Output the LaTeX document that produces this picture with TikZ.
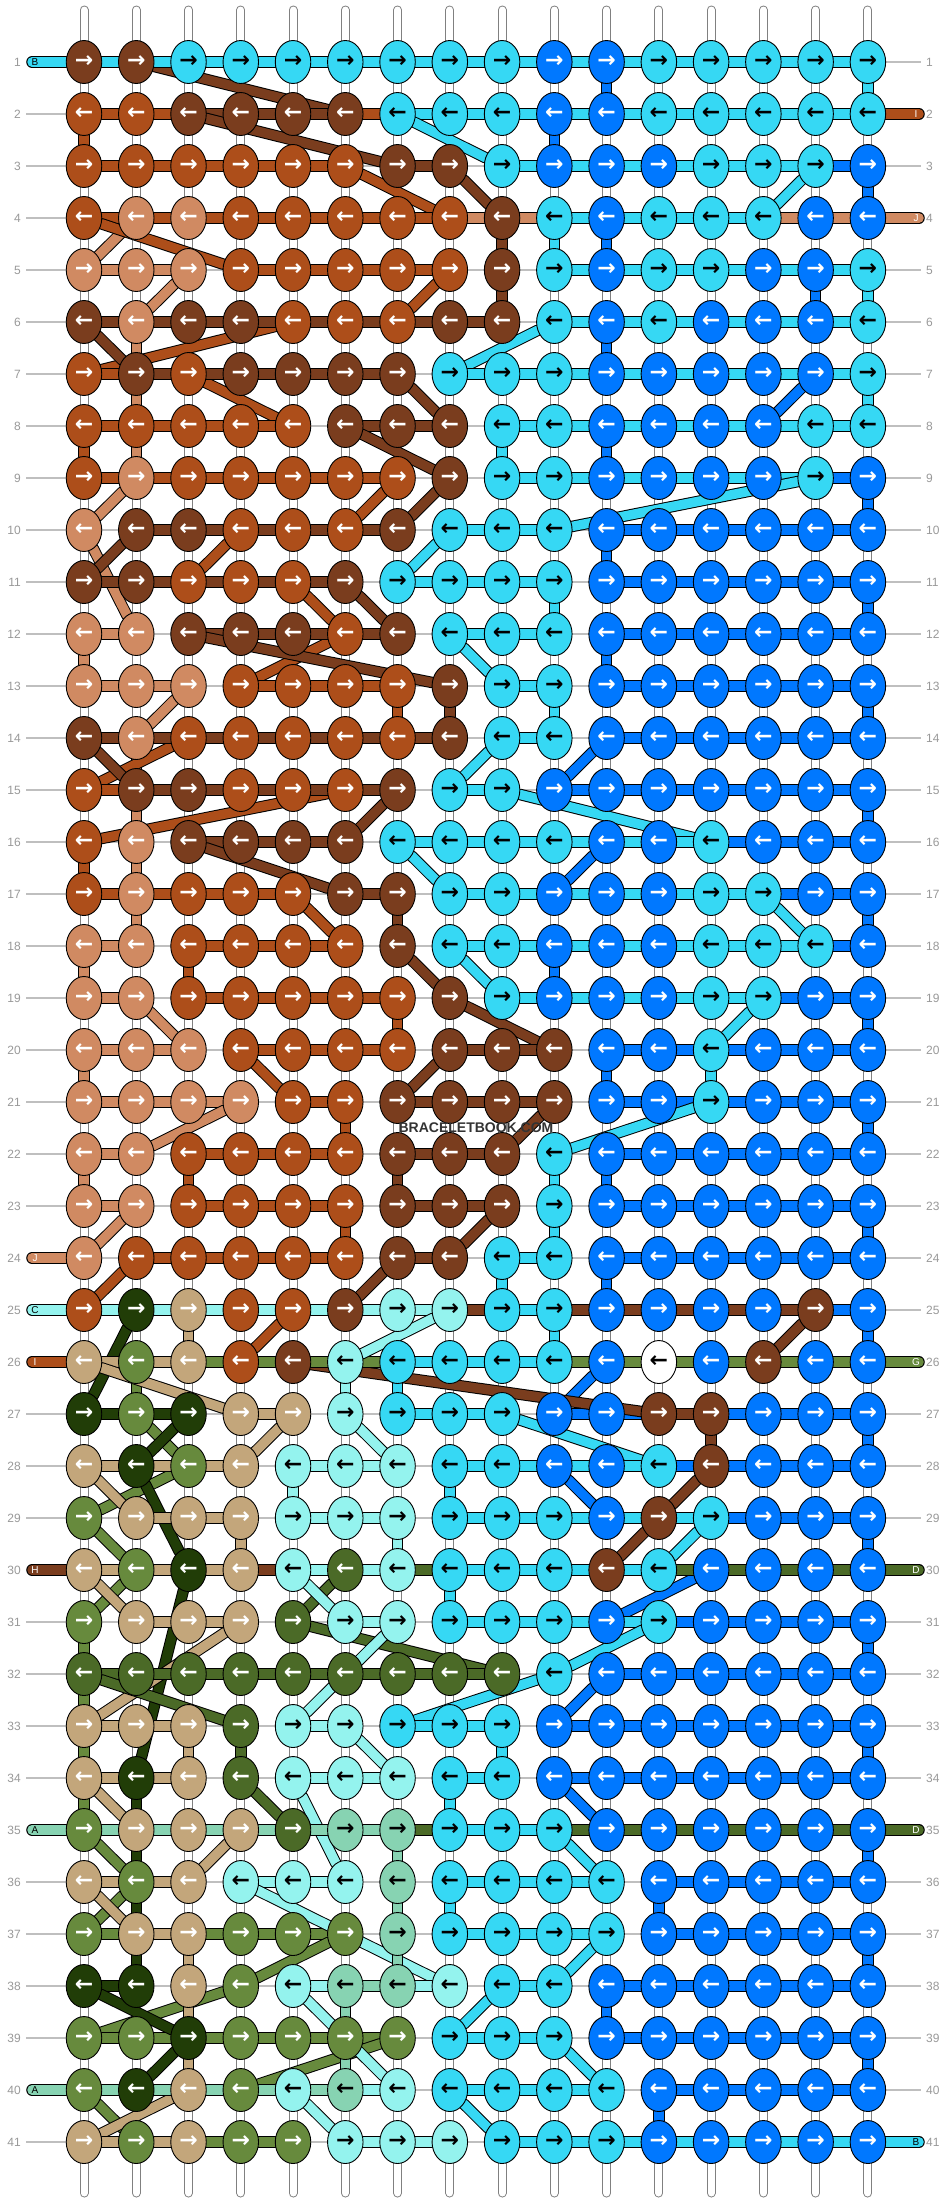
\documentclass[tikz,border=0pt]{standalone}
\usepackage{fontspec}
\setmainfont{Liberation Sans}
\newfontfamily\arrowfont{DejaVu Sans}
\usetikzlibrary{shapes.geometric}

\pgfdeclarelayer{base}
\pgfdeclarelayer{strands}
\pgfsetlayers{base,strands,main}

% thread colours, and the colour of the arrow on a knot of that thread
\definecolor{cB}{HTML}{0078FF} \colorlet{aB}{white}
\definecolor{cC}{HTML}{36D8F4} \colorlet{aC}{black}
\definecolor{cD}{HTML}{7A3D1E} \colorlet{aD}{white}
\definecolor{cO}{HTML}{AD4E1A} \colorlet{aO}{white}
\definecolor{cP}{HTML}{D08A62} \colorlet{aP}{white}
\definecolor{cT}{HTML}{C3A67B} \colorlet{aT}{white}
\definecolor{cG}{HTML}{678A3D} \colorlet{aG}{white}
\definecolor{cE}{HTML}{4B6A27} \colorlet{aE}{white}
\definecolor{cK}{HTML}{213D07} \colorlet{aK}{white}
\definecolor{cL}{HTML}{94F3EE} \colorlet{aL}{black}
\definecolor{cM}{HTML}{87D3B2} \colorlet{aM}{black}
\definecolor{cW}{HTML}{FFFFFF} \colorlet{aW}{black}

% knot colours, row by row, left to right
\newcount\kcol
\def\storerow#1#2{\global\kcol=0 \def\currow{#1}\storeknots#2\relax}
\def\storeknots#1{\ifx\relax#1\else
  \global\advance\kcol by 1
  \expandafter\xdef\csname knot@\currow @\the\kcol\endcsname{#1}%
  \expandafter\storeknots\fi}
\storerow{1}{DDCCCCCCCBBCCCCC}
\storerow{2}{OODDDDCCCBBCCCCC}
\storerow{3}{OOOOOODDCBBBCCCB}
\storerow{4}{OPPOOOOODCBCCCBB}
\storerow{5}{PPPOOOOODCBCCBBC}
\storerow{6}{DPDDOOODDCBCBBBC}
\storerow{7}{ODODDDDCCCBBBBBC}
\storerow{8}{OOOOODDDCCBBBBCC}
\storerow{9}{OPOOOOODCCBBBBCB}
\storerow{10}{PDDOOODCCCBBBBBB}
\storerow{11}{DDOOODCCCCBBBBBB}
\storerow{12}{PPDDDODCCCBBBBBB}
\storerow{13}{PPPOOOODCCBBBBBB}
\storerow{14}{DPOOOOODCCBBBBBB}
\storerow{15}{ODDOOODCCBBBBBBB}
\storerow{16}{OPDDDDCCCCBBCBBB}
\storerow{17}{OPOOODDCCBBBCCBB}
\storerow{18}{PPOOOODCCBBBCCCB}
\storerow{19}{PPOOOOODCBBBCCBB}
\storerow{20}{PPPOOOODDDBBCBBB}
\storerow{21}{PPPPOODDDDBBCBBB}
\storerow{22}{PPOOOODDDCBBBBBB}
\storerow{23}{PPOOOODDDCBBBBBB}
\storerow{24}{POOOOODDCCBBBBBB}
\storerow{25}{OKTOODLLCCBBBBDB}
\storerow{26}{TGTODLCCCCBWBDBB}
\storerow{27}{KGKTTLCCCBBDDBBB}
\storerow{28}{TKGTLLLCCBBCDBBB}
\storerow{29}{GTTTLLLCCCBDCBBB}
\storerow{30}{TGKTLELCCCDCBBBB}
\storerow{31}{GTTTELLCCCBCBBBB}
\storerow{32}{EEEEEEEEECBBBBBB}
\storerow{33}{TTTELLCCCBBBBBBB}
\storerow{34}{TKTELLLCCBBBBBBB}
\storerow{35}{GTTTEMMCCCBBBBBB}
\storerow{36}{TGTLLLMCCCCBBBBB}
\storerow{37}{GTTGGGMCCCCBBBBB}
\storerow{38}{KKTGLMMLCCBBBBBB}
\storerow{39}{GGKGGGGCCCBBBBBB}
\storerow{40}{GKTGLMLCCCCBBBBB}
\storerow{41}{TGTGGLLLCCCBBBBB}

% a thread coming in or going out at the side: #1 in/out, #2 thread, #3 row, #4 side, #5 letter
\newcommand\strandtag[5]{%
  \pgfmathsetmacro\ty{62+52*(#3-1)}
  \if#4l
    \coordinate (end-#3-#4) at (32,\ty);
    \node[tagletter=#2] (tag-#3-#4) at (35,\ty) {#5};
  \else
    \coordinate (end-#3-#4) at (919,\ty);
    \node[tagletter=#2] (tag-#3-#4) at (916,\ty) {#5};
  \fi
  \expandafter\xdef\csname #1@#2\endcsname{end-#3-#4}}

\begin{document}
\begin{tikzpicture}[x=1pt,y=-1pt]
\tikzset{
  knot/.style={ellipse, draw=black, line width=0.9pt, fill=c#1, text=a#1,
    minimum width=35.5pt, minimum height=43pt, inner sep=0pt,
    font=\arrowfont\bfseries\fontsize{22}{22}\selectfont},
  strand/.style={draw=black, line width=1pt, double=c#1, double distance=9.5pt, line cap=round},
  basestring/.style={draw=gray, line width=1pt, double=white, double distance=7pt, line cap=round},
  guide/.style={draw=black!25, line width=1.3pt},
  rowlabel/.style={text=black!40, inner sep=5pt, font=\fontsize{12}{12}\selectfont},
  tagletter/.style={text=a#1, inner sep=0pt, font=\fontsize{10}{10}\selectfont}
}
\useasboundingbox (0,0) rectangle (948,2204);
\begin{pgfonlayer}{base}
  \fill[white] (0,0) rectangle (948,2204);
\end{pgfonlayer}

% base strings
\foreach \k in {1,...,16}{
  \pgfmathsetmacro\x{84+52.26*(\k-1)}
  \coordinate (top-\k) at (\x,10);
  \coordinate (bot-\k) at (\x,2193);
  \begin{pgfonlayer}{base}
    \draw[basestring] (top-\k) -- (bot-\k);
  \end{pgfonlayer}
}

% row numbers and guide lines
\foreach \r in {1,...,41}{
  \pgfmathsetmacro\y{62+52*(\r-1)}
  \node[rowlabel, anchor=east] (l-\r) at (26,\y) {\r};
  \node[rowlabel, anchor=west] (r-\r) at (921,\y) {\r};
  \begin{pgfonlayer}{base}
    \draw[guide] (l-\r) -- (r-\r);
  \end{pgfonlayer}
}

% knots
\foreach \r in {1,...,41}{
  \foreach \k in {1,...,16}{
    \edef\kc{\csname knot@\r @\k\endcsname}
    \node[knot=\kc] (k-\r-\k) at ({84+52.26*(\k-1)},{62+52*(\r-1)}) {\ifodd\r\relax →\else ←\fi};
  }
}

% threads that enter or leave at the sides
\strandtag{in}{C}{1}{l}{B}
\strandtag{in}{O}{2}{r}{I}
\strandtag{in}{P}{4}{r}{J}
\strandtag{out}{P}{24}{l}{J}
\strandtag{in}{L}{25}{l}{C}
\strandtag{out}{O}{26}{l}{I}
\strandtag{in}{G}{26}{r}{G}
\strandtag{out}{D}{30}{l}{H}
\strandtag{in}{E}{30}{r}{D}
\strandtag{in}{M}{35}{l}{A}
\strandtag{out}{E}{35}{r}{D}
\strandtag{out}{M}{40}{l}{A}
\strandtag{out}{C}{41}{r}{B}

% each thread runs from knot to knot in working order
\begin{pgfonlayer}{strands}
\foreach \strc in {B,W,P,O,D,G,K,T,E,L,C,M}{
  \edef\curc{\strc}
  \ifcsname in@\strc\endcsname
    \xdef\lastk{\csname in@\strc\endcsname}
  \else
    \gdef\lastk{}
  \fi
  \foreach \r in {1,...,41}{
    \ifodd\r\relax \def\colorder{1,...,16}\else \def\colorder{16,...,1}\fi
    \foreach \k in \colorder{
      \edef\kc{\csname knot@\r @\k\endcsname}
      \ifx\kc\curc
        \ifx\lastk\empty\else
          \draw[strand=\strc] (\lastk) -- (k-\r-\k);
        \fi
        \xdef\lastk{k-\r-\k}
      \fi
    }
  }
  \ifcsname out@\strc\endcsname
    \edef\outk{\csname out@\strc\endcsname}
    \draw[strand=\strc] (\lastk) -- (\outk);
  \fi
}
\end{pgfonlayer}

\node[font=\bfseries\fontsize{14}{14}\selectfont, text=black!80] (wm) at (476,1128) {BRACELETBOOK.COM};
\end{tikzpicture}
\end{document}
